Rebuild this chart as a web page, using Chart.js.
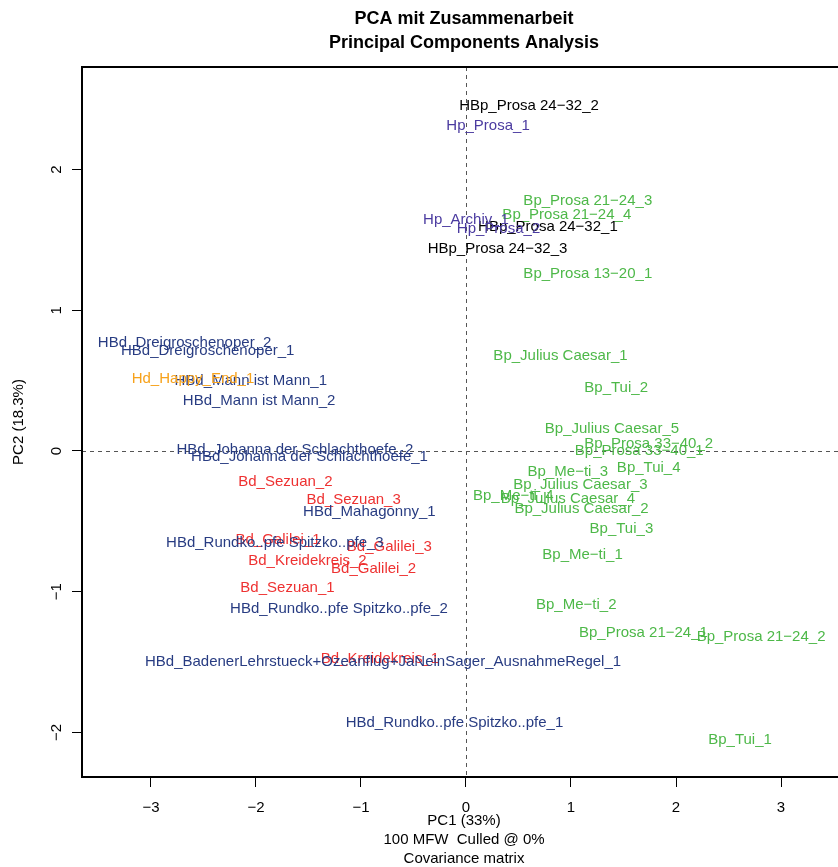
<!DOCTYPE html>
<html>
<head>
<meta charset="utf-8">
<script src="https://cdn.jsdelivr.net/npm/chart.js@4/dist/chart.umd.min.js"></script>
<style>
  html, body { margin: 0; padding: 0; background: #fff; overflow: hidden; }
  canvas { display: block; }
</style>
</head>
<body>
<canvas id="pca" width="928" height="867"></canvas>
<script>
// sample names, as printed on the plot
var sampleLabels = [
  'Bd_Sezuan_2', 'Bd_Sezuan_3', 'Bd_Galilei_1', 'Bd_Galilei_3', 'Bd_Kreidekreis_2',
  'Bd_Galilei_2', 'Bd_Sezuan_1', 'Bd_Kreidekreis_1',
  'Bp_Prosa 21-24_3', 'Bp_Prosa 21-24_4', 'Bp_Prosa 13-20_1', 'Bp_Julius Caesar_1', 'Bp_Tui_2',
  'Bp_Julius Caesar_5', 'Bp_Prosa 33-40_2', 'Bp_Prosa 33-40_1', 'Bp_Me-ti_3', 'Bp_Tui_4',
  'Bp_Julius Caesar_3', 'Bp_Me-ti_4', 'Bp_Julius Caesar_4', 'Bp_Julius Caesar_2', 'Bp_Tui_3',
  'Bp_Me-ti_1', 'Bp_Me-ti_2', 'Bp_Prosa 21-24_1', 'Bp_Prosa 21-24_2', 'Bp_Tui_1',
  'HBd_Dreigroschenoper_2', 'HBd_Dreigroschenoper_1', 'HBd_Mann ist Mann_1', 'HBd_Mann ist Mann_2',
  'HBd_Johanna der Schlachthoefe_2', 'HBd_Johanna der Schlachthoefe_1', 'HBd_Mahagonny_1',
  'HBd_Rundko..pfe Spitzko..pfe_3', 'HBd_Rundko..pfe Spitzko..pfe_2',
  'HBd_BadenerLehrstueck+Ozeanflug+JaNeinSager_AusnahmeRegel_1', 'HBd_Rundko..pfe Spitzko..pfe_1',
  'HBp_Prosa 24-32_2', 'HBp_Prosa 24-32_1', 'HBp_Prosa 24-32_3',
  'Hd_Happy_End_1',
  'Hp_Prosa_1', 'Hp_Archiv_1', 'Hp_Prosa_2'
];
var pc1Values = [
  -1.72, -1.07, -1.79, -0.73, -1.51,
  -0.88, -1.70, -0.82,
  1.16, 0.96, 1.16, 0.90, 1.43,
  1.39, 1.74, 1.65, 0.97, 1.74,
  1.09, 0.45, 0.97, 1.10, 1.48,
  1.11, 1.05, 1.69, 2.81, 2.61,
  -2.68, -2.46, -2.05, -1.97,
  -1.63, -1.49, -0.92,
  -1.82, -1.21,
  -0.79, -0.11,
  0.60, 0.78, 0.30,
  -2.60,
  0.21, 0.00, 0.31
];
var pc2Values = [
  -0.21, -0.34, -0.62, -0.67, -0.77,
  -0.83, -0.96, -1.47,
  1.79, 1.69, 1.27, 0.69, 0.46,
  0.17, 0.06, 0.01, -0.14, -0.11,
  -0.23, -0.31, -0.33, -0.40, -0.54,
  -0.73, -1.08, -1.28, -1.31, -2.04,
  0.78, 0.72, 0.51, 0.37,
  0.02, -0.03, -0.42,
  -0.64, -1.11,
  -1.49, -1.92,
  2.46, 1.60, 1.45,
  0.52,
  2.32, 1.65, 1.59
];
var sampleGroups = [
  'Bd', 'Bd', 'Bd', 'Bd', 'Bd', 'Bd', 'Bd', 'Bd',
  'Bp', 'Bp', 'Bp', 'Bp', 'Bp', 'Bp', 'Bp', 'Bp', 'Bp', 'Bp',
  'Bp', 'Bp', 'Bp', 'Bp', 'Bp', 'Bp', 'Bp', 'Bp', 'Bp', 'Bp',
  'HBd', 'HBd', 'HBd', 'HBd', 'HBd', 'HBd', 'HBd', 'HBd', 'HBd', 'HBd', 'HBd',
  'HBp', 'HBp', 'HBp',
  'Hd',
  'Hp', 'Hp', 'Hp'
];

var groupNames = ['Bd', 'Bp', 'HBd', 'HBp', 'Hd', 'Hp'];
var groupColors = ['#ee3131', '#4db848', '#283c82', '#000000', '#f7a21b', '#4b3ba0'];

var xTickVals = [-3, -2, -1, 0, 1, 2, 3];
var yTickVals = [-2, -1, 0, 1, 2];

var fontFamily = '"Liberation Sans", Arial, Helvetica, sans-serif';

// one dataset per group, points carry their sample name
var datasets = groupNames.map(function (g, gi) {
  var pts = [];
  for (var i = 0; i < sampleLabels.length; i++) {
    if (sampleGroups[i] === g) {
      pts.push({ x: pc1Values[i], y: pc2Values[i], label: sampleLabels[i] });
    }
  }
  return {
    label: g,
    data: pts,
    pointRadius: 0,
    pointHoverRadius: 0,
    borderColor: groupColors[gi],
    backgroundColor: groupColors[gi]
  };
});

function minus(v) {
  return String(v).replace('-', '\u2212');
}

// box round the plot plus the dashed zero lines
var framePlugin = {
  id: 'frame',
  beforeDatasetsDraw: function (chart) {
    var ctx = chart.ctx;
    var a = chart.chartArea;
    var x0 = chart.scales.x.getPixelForValue(0);
    var y0 = chart.scales.y.getPixelForValue(0);
    ctx.save();
    ctx.strokeStyle = '#555';
    ctx.lineWidth = 1;
    ctx.setLineDash([4, 4]);
    ctx.beginPath();
    ctx.moveTo(Math.round(x0) + 0.5, a.top);
    ctx.lineTo(Math.round(x0) + 0.5, a.bottom);
    ctx.moveTo(a.left, Math.round(y0) + 0.5);
    ctx.lineTo(a.right, Math.round(y0) + 0.5);
    ctx.stroke();
    ctx.setLineDash([]);
    ctx.strokeStyle = '#000';
    ctx.lineWidth = 2;
    ctx.strokeRect(a.left, a.top, a.right - a.left, a.bottom - a.top);
    ctx.restore();
  }
};

// the sample names are the marks (centred on the point, like R's text())
var labelPlugin = {
  id: 'pointLabels',
  afterDatasetsDraw: function (chart) {
    var ctx = chart.ctx;
    ctx.save();
    ctx.font = '15px ' + fontFamily;
    ctx.textAlign = 'center';
    ctx.textBaseline = 'middle';
    chart.data.datasets.forEach(function (ds, i) {
      chart.getDatasetMeta(i).data.forEach(function (pt, j) {
        ctx.fillStyle = ds.borderColor;
        ctx.fillText(ds.data[j].label.replace(/-/g, '\u2212'), pt.x, pt.y + 1.5);
      });
    });
    ctx.restore();
  }
};

var tickGrid = {
  drawOnChartArea: false,
  drawTicks: true,
  tickLength: 10,
  tickColor: '#000',
  tickWidth: 1
};

var chartArea = document.getElementById('pca').getContext('2d');

var pcaChart = new Chart(chartArea, {
  type: 'scatter',
  data: { datasets: datasets },
  options: {
    responsive: false,
    animation: false,
    devicePixelRatio: 1,
    events: [],
    layout: { padding: 0 },
    plugins: {
      legend: { display: false },
      tooltip: { enabled: false },
      title: {
        display: true,
        text: ['PCA mit Zusammenarbeit', 'Principal Components Analysis'],
        color: '#000',
        font: { family: fontFamily, size: 18, weight: 'bold', lineHeight: 24 / 18 },
        padding: { top: 7, bottom: 12 }
      }
    },
    scales: {
      x: {
        type: 'linear',
        position: 'bottom',
        min: -3.657,
        max: 3.619,
        afterBuildTicks: function (s) {
          s.ticks = xTickVals.map(function (v) { return { value: v }; });
        },
        afterFit: function (s) { s.height = 90; },
        grid: tickGrid,
        border: { display: false },
        ticks: {
          color: '#000',
          padding: 12,
          minRotation: 0,
          maxRotation: 0,
          font: { family: fontFamily, size: 15 },
          callback: function (v) { return minus(v); }
        },
        title: {
          display: true,
          text: ['PC1 (33%)', '100 MFW  Culled @ 0%', 'Covariance matrix'],
          color: '#000',
          font: { family: fontFamily, size: 15, lineHeight: 19 / 15 },
          padding: { top: 0, bottom: -1.5 }
        }
      },
      y: {
        type: 'linear',
        position: 'left',
        min: -2.317,
        max: 2.729,
        afterBuildTicks: function (s) {
          s.ticks = yTickVals.map(function (v) { return { value: v }; });
        },
        afterFit: function (s) { s.width = 82; },
        grid: tickGrid,
        border: { display: false },
        ticks: {
          color: '#000',
          padding: 7,
          minRotation: 90,
          maxRotation: 90,
          crossAlign: 'center',
          font: { family: fontFamily, size: 15 },
          callback: function (v) { return minus(v); }
        },
        title: {
          display: true,
          text: 'PC2 (18.3%)',
          color: '#000',
          font: { family: fontFamily, size: 15, lineHeight: 18 / 15 },
          padding: { top: 10, bottom: 0 }
        }
      },
      // empty right margin so the title centres over the plot
      yRight: {
        type: 'linear',
        position: 'right',
        display: true,
        grid: { display: false },
        border: { display: false },
        ticks: { display: false },
        afterFit: function (s) { s.width = 82; }
      }
    }
  },
  plugins: [framePlugin, labelPlugin]
});
</script>
</body>
</html>
